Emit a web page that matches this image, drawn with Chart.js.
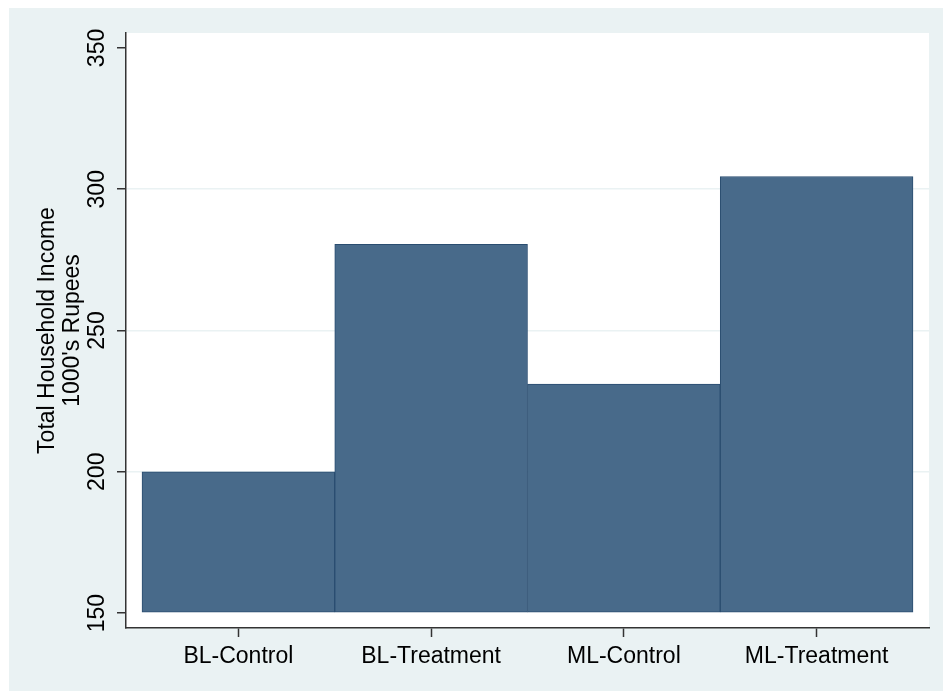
<!DOCTYPE html>
<html>
<head>
<meta charset="utf-8">
<script src="https://cdn.jsdelivr.net/npm/chart.js@4.4.1/dist/chart.umd.min.js"></script>
<style>
  html, body { margin: 0; padding: 0; background: #ffffff; overflow: hidden; }
  #wrap { width: 943px; height: 692px; position: relative; }
  canvas { display: block; }
</style>
</head>
<body>
<div id="wrap"><canvas id="income" width="943" height="692"></canvas></div>
<script>
const groups = ["BL-Control", "BL-Treatment", "ML-Control", "ML-Treatment"];
const incomes = [200, 280.5, 231, 304.5];
const yTicks = [150, 200, 250, 300, 350];
const yTitle = ["Total Household Income", "1000's Rupees"];

const barBase = 150;
const fontFamily = "'Liberation Sans', Arial, sans-serif";

// stata-like backgrounds: outer panel + white plot region
const panelBackground = {
  id: "panelBackground",
  beforeDraw(chart) {
    const { ctx, chartArea } = chart;
    ctx.save();
    ctx.fillStyle = "#eaf2f3";
    ctx.fillRect(9, 8, chart.width - 9, chart.height - 9);
    ctx.fillStyle = "#ffffff";
    ctx.fillRect(chartArea.left, chartArea.top,
      chartArea.right - chartArea.left, chartArea.bottom - chartArea.top);
    ctx.restore();
  },
};

new Chart(document.getElementById("income"), {
  type: "bar",
  data: {
    datasets: [
      {
        data: incomes.map((v, i) => ({ x: i, y: v })),
        base: barBase,
        backgroundColor: "#486a8a",
        borderColor: "#2a4d70",
        borderWidth: 1,
        borderSkipped: false,
        barPercentage: 1,
        categoryPercentage: 1,
      },
    ],
  },
  options: {
    responsive: false,
    animation: false,
    devicePixelRatio: 1,
    layout: { padding: { left: 0, right: 14, top: 33, bottom: 0 } },
    plugins: { legend: { display: false }, tooltip: { enabled: false } },
    scales: {
      x: {
        type: "linear",
        offset: false,
        min: -0.583,
        max: 3.583,
        afterBuildTicks: (axis) => {
          axis.ticks = groups.map((_, i) => ({ value: i }));
        },
        afterFit: (axis) => { axis.height = 64; },
        grid: {
          display: true,
          offset: false,
          drawOnChartArea: false,
          tickLength: 9,
          tickColor: "#333333",
          tickWidth: 1.5,
        },
        border: { display: true, color: "#333333", width: 1.5 },
        ticks: {
          padding: 6,
          color: "#000000",
          font: { family: fontFamily, size: 23 },
          maxRotation: 0,
          autoSkip: false,
          callback: (v) => groups[v],
        },
      },
      y: {
        min: 144.7,
        max: 355.3,
        afterBuildTicks: (axis) => {
          axis.ticks = yTicks.map((v) => ({ value: v }));
        },
        afterFit: (axis) => { axis.width = 126; },
        grid: {
          color: (c) => (c.tick && c.tick.value > 150 && c.tick.value < 350 ? "#eaf2f3" : "rgba(0,0,0,0)"),
          lineWidth: 1.5,
          tickColor: "#333333",
          tickLength: 9,
          tickWidth: 1.5,
        },
        border: { display: true, color: "#333333", width: 1.5 },
        ticks: {
          minRotation: 90,
          maxRotation: 90,
          crossAlign: "center",
          padding: 0,
          autoSkip: false,
          color: "#000000",
          font: { family: fontFamily, size: 23 },
        },
        title: {
          display: true,
          text: yTitle,
          color: "#000000",
          font: { family: fontFamily, size: 23, lineHeight: 1.08 },
          padding: { top: 35, bottom: 0 },
        },
      },
    },
  },
  plugins: [panelBackground],
});
</script>
</body>
</html>
